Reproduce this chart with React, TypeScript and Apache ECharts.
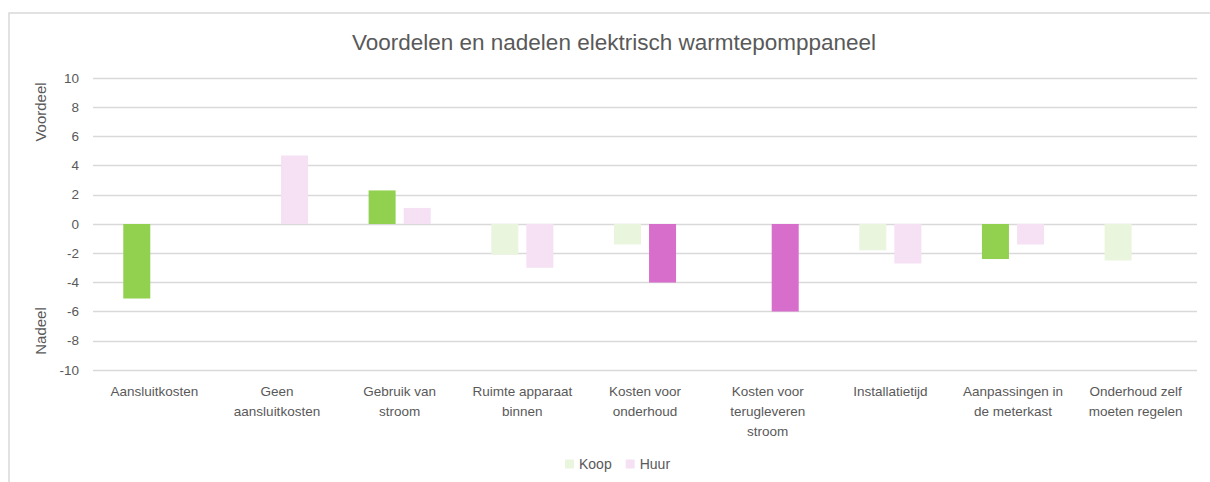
import React, { useEffect, useRef } from "react";
import * as echarts from "echarts";

const categories = [
  "Aansluitkosten",
  "Geen\naansluitkosten",
  "Gebruik van\nstroom",
  "Ruimte apparaat\nbinnen",
  "Kosten voor\nonderhoud",
  "Kosten voor\nterugleveren\nstroom",
  "Installatietijd",
  "Aanpassingen in\nde meterkast",
  "Onderhoud zelf\nmoeten regelen",
];
const koopValues: (number | null)[] = [-5.1, null, 2.3, -2.1, -1.4, null, -1.8, -2.4, -2.5];
const huurValues: (number | null)[] = [null, 4.7, 1.1, -3.0, -4.0, -6.0, -2.7, -1.4, null];
const koopHighlight = [true, false, true, false, false, false, false, true, false];
const huurHighlight = [false, false, false, false, true, true, false, false, false];

const FONT = "Liberation Sans";
const TXT = "#595959";
const GREEN = "#92D050";
const GREEN_PALE = "#E9F5DD";
const PINK = "#D86ECC";
const PINK_PALE = "#F5E1F3";

export default function App() {
  const ref = useRef<HTMLDivElement>(null);
  useEffect(() => {
    if (!ref.current) return;
    const chart = echarts.init(ref.current, null, { renderer: "svg" });
    const mk = (vals: (number | null)[], hl: boolean[], solid: string) =>
      vals.map((v, i) =>
        v === null ? "-" : hl[i] ? { value: v, itemStyle: { color: solid } } : v
      );
    chart.setOption({
      animation: false,
      textStyle: { fontFamily: FONT },
      grid: { left: 93, right: 13, top: 78, bottom: 112, containLabel: false },
      graphic: [
        {
          type: "rect",
          shape: { x: 9, y: 13, width: 1220, height: 490 },
          style: { fill: "none", stroke: "#d9d9d9", lineWidth: 1.5 },
          silent: true,
        },
        {
          type: "text",
          x: 614,
          y: 42,
          style: {
            text: "Voordelen en nadelen elektrisch warmtepomppaneel",
            fontFamily: FONT,
            fontSize: 22.5,
            fill: TXT,
            textAlign: "center",
            textVerticalAlign: "middle",
          },
        },
        {
          type: "text",
          x: 40,
          y: 112,
          rotation: Math.PI / 2,
          style: {
            text: "Voordeel",
            fontFamily: FONT,
            fontSize: 15,
            fill: TXT,
            textAlign: "center",
            textVerticalAlign: "middle",
          },
        },
        {
          type: "text",
          x: 40,
          y: 331,
          rotation: Math.PI / 2,
          style: {
            text: "Nadeel",
            fontFamily: FONT,
            fontSize: 15,
            fill: TXT,
            textAlign: "center",
            textVerticalAlign: "middle",
          },
        },
      ],
      legend: {
        data: ["Koop", "Huur"],
        left: 560,
        top: 452,
        icon: "rect",
        itemWidth: 9,
        itemHeight: 9,
        itemGap: 14,
        textStyle: { color: TXT, fontSize: 14, fontFamily: FONT },
      },
      xAxis: {
        type: "category",
        data: categories,
        axisLine: { show: false, onZero: false },
        axisTick: { show: false },
        axisLabel: {
          color: TXT,
          fontSize: 13.5,
          fontFamily: FONT,
          lineHeight: 20,
          margin: 11,
          interval: 0,
          align: "center",
        },
      },
      yAxis: {
        type: "value",
        min: -10,
        max: 10,
        interval: 2,
        axisLine: { show: false },
        axisTick: { show: false },
        axisLabel: { color: TXT, fontSize: 13.5, fontFamily: FONT, margin: 14 },
        splitLine: { lineStyle: { color: "#d9d9d9", width: 1.3 } },
      },
      series: [
        {
          name: "Koop",
          type: "bar",
          data: mk(koopValues, koopHighlight, GREEN),
          itemStyle: { color: GREEN_PALE },
          barWidth: 27,
          barGap: "30%",
        },
        {
          name: "Huur",
          type: "bar",
          data: mk(huurValues, huurHighlight, PINK),
          itemStyle: { color: PINK_PALE },
          barWidth: 27,
          barGap: "30%",
        },
      ],
    });
    return () => chart.dispose();
  }, []);
  return (
    <div
      ref={ref}
      style={{ position: "absolute", left: 0, top: 0, width: 1210, height: 482, background: "#fff" }}
    />
  );
}
